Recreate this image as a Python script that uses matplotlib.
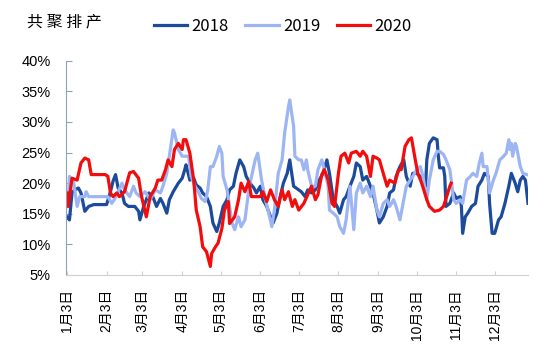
import matplotlib
matplotlib.use('Agg')
import matplotlib.pyplot as plt

# day of year (x) and share in % (y) for each year
days_2018 = [3, 5, 7, 9, 12, 14, 17, 20, 24, 34, 37, 39, 41, 43, 46, 48, 51, 56, 59, 60,
             63, 67, 70, 73, 76, 78, 81, 83, 86, 90, 93, 95, 96, 99, 102, 104, 107, 109, 112, 115,
             117, 120, 122, 125, 128, 130, 133, 135, 138, 141, 143, 146, 149, 151, 154, 156, 159, 162, 164, 167,
             169, 172, 175, 177, 180, 184, 186, 189, 191, 194, 197, 200, 203, 206, 208, 211, 214, 216, 219, 221,
             224, 227, 229, 232, 234, 237, 240, 242, 245, 247, 250, 253, 255, 258, 260, 263, 266, 268, 271, 273,
             276, 279, 281, 283, 284, 286, 289, 292, 293, 294, 297, 298, 299, 302, 305, 307, 310, 311, 312, 314,
             316, 319, 322, 324, 327, 329, 332, 333, 335, 337, 340, 342, 345, 348, 350, 353, 355, 357, 359, 361,
             363]
vals_2018 = [14.5, 14.0, 18.4, 18.9, 19.2, 18.4, 15.4, 16.2, 16.5, 16.5, 18.6, 20.3, 21.4, 19.2, 18.4, 16.7, 16.2, 16.2, 15.4, 14.0,
             16.2, 18.4, 17.8, 16.2, 17.5, 16.7, 15.1, 17.3, 18.6, 20.0, 20.8, 22.2, 23.0, 20.5, 20.8, 19.7, 19.2, 18.4, 17.8, 16.2,
             13.5, 12.1, 13.5, 16.2, 17.3, 18.9, 19.5, 21.6, 23.8, 22.7, 21.1, 20.0, 19.2, 18.4, 19.5, 17.3, 16.2, 14.5, 13.5, 15.1,
             17.3, 20.0, 21.6, 23.8, 19.5, 18.9, 18.6, 17.8, 18.9, 18.4, 18.9, 20.5, 21.6, 23.8, 21.6, 17.3, 16.2, 15.1, 17.3, 17.8,
             19.5, 21.1, 23.3, 22.7, 20.5, 21.1, 19.5, 18.4, 15.6, 13.5, 14.5, 16.2, 18.4, 18.9, 21.1, 22.7, 23.8, 21.1, 19.5, 21.6,
             21.6, 21.1, 20.0, 19.5, 23.8, 26.5, 27.4, 27.1, 24.4, 22.5, 22.5, 21.1, 16.2, 16.7, 18.4, 17.5, 17.8, 16.2, 11.8, 14.5,
             15.1, 16.2, 16.7, 19.5, 20.5, 21.6, 21.1, 16.7, 11.8, 11.8, 14.0, 14.5, 16.7, 19.5, 21.6, 20.0, 18.6, 20.5, 21.1, 20.5,
             16.7]

days_2019 = [3, 4, 5, 8, 11, 13, 17, 18, 20, 35, 38, 40, 43, 46, 48, 52, 55, 57, 60, 64,
             68, 72, 76, 78, 81, 83, 86, 87, 90, 93, 95, 98, 100, 103, 106, 108, 111, 113, 115, 117,
             120, 122, 124, 125, 128, 130, 132, 134, 137, 139, 142, 145, 146, 150, 152, 155, 158, 160, 163, 165,
             168, 171, 173, 176, 177, 180, 181, 184, 186, 188, 190, 191, 194, 197, 199, 202, 204, 207, 208, 211,
             214, 216, 219, 221, 224, 227, 229, 232, 234, 237, 240, 242, 245, 247, 250, 253, 255, 258, 260, 263,
             266, 268, 271, 273, 276, 279, 281, 284, 286, 289, 292, 294, 297, 299, 302, 305, 307, 310, 312, 315,
             318, 320, 323, 325, 327, 328, 331, 333, 336, 338, 341, 344, 346, 348, 349, 350, 351, 353, 354, 357,
             359, 362]
vals_2019 = [16.2, 16.7, 21.1, 20.5, 16.2, 17.8, 17.8, 18.6, 17.8, 17.8, 16.7, 17.3, 18.6, 20.0, 18.9, 17.8, 19.5, 18.4, 17.8, 18.6,
             17.3, 18.9, 18.4, 19.5, 21.6, 24.4, 28.7, 28.2, 25.5, 24.4, 24.4, 24.4, 21.1, 19.5, 18.4, 17.5, 17.0, 18.9, 22.7, 22.7,
             24.4, 26.0, 24.9, 21.1, 18.9, 16.2, 13.5, 12.4, 14.5, 12.9, 14.0, 18.9, 20.0, 23.8, 24.9, 20.5, 17.3, 15.6, 12.9, 15.6,
             21.6, 23.8, 28.2, 32.5, 33.6, 29.3, 24.4, 23.8, 23.8, 22.2, 23.8, 22.2, 19.5, 19.5, 22.2, 23.8, 22.2, 19.5, 15.6, 15.1,
             14.5, 12.9, 11.8, 14.0, 19.5, 12.4, 18.4, 20.0, 18.4, 19.5, 17.8, 19.5, 15.6, 14.5, 16.7, 17.3, 16.2, 17.3, 16.2, 14.0,
             17.3, 19.5, 20.5, 21.1, 22.2, 22.7, 21.1, 17.3, 20.5, 23.8, 25.2, 25.2, 24.7, 23.8, 22.2, 17.3, 16.7, 17.3, 16.7, 20.5,
             21.1, 21.6, 21.1, 23.3, 24.9, 22.7, 22.7, 18.4, 20.5, 21.6, 23.8, 24.4, 24.9, 27.1, 25.5, 26.5, 24.4, 26.5, 26.0, 22.7,
             21.6, 21.4]

days_2020 = [3, 4, 7, 11, 14, 17, 20, 22, 33, 35, 37, 39, 42, 44, 48, 52, 55, 59, 61, 65,
             68, 72, 74, 77, 80, 82, 85, 87, 90, 93, 94, 96, 99, 102, 104, 107, 109, 112, 115, 116,
             119, 121, 124, 126, 129, 130, 134, 137, 139, 142, 145, 147, 154, 156, 159, 162, 165, 168, 171, 173,
             176, 179, 181, 184, 188, 191, 194, 197, 199, 202, 204, 207, 210, 212, 215, 217, 220, 223, 225, 229,
             232, 234, 237, 240, 242, 245, 247, 250, 253, 255, 259, 262, 264, 267, 270, 272, 275, 277, 280, 284,
             286, 290, 294, 297, 299, 302, 303]
vals_2020 = [18.4, 16.2, 20.8, 20.5, 23.3, 24.1, 23.8, 21.4, 21.4, 21.1, 18.4, 17.8, 18.4, 17.8, 18.6, 21.7, 21.9, 20.8, 18.1, 14.5,
             17.8, 19.2, 20.5, 20.5, 22.2, 23.8, 22.7, 25.5, 26.5, 25.5, 27.1, 27.1, 24.9, 20.5, 15.6, 12.9, 9.6, 8.8, 6.4, 8.5,
             9.6, 10.2, 12.6, 15.6, 17.0, 13.4, 14.5, 17.3, 20.0, 18.6, 20.3, 17.8, 17.8, 18.6, 17.0, 18.9, 17.3, 16.2, 18.9, 17.3,
             18.6, 16.2, 17.3, 15.6, 16.7, 18.1, 19.5, 17.3, 18.1, 21.4, 22.2, 20.5, 16.7, 16.2, 21.6, 24.4, 24.9, 23.3, 24.9, 25.2,
             24.4, 25.2, 24.4, 21.1, 24.4, 24.1, 23.8, 21.6, 19.5, 20.5, 20.0, 22.2, 22.2, 26.0, 27.1, 27.4, 23.8, 21.6, 20.0, 17.3,
             16.2, 15.4, 15.6, 16.2, 17.5, 19.5, 20.0]

tick_days = [3, 34, 62, 93, 123, 154, 184, 215, 246, 276, 307, 337]
tick_labels = ['1月3日', '2月3日', '3月3日', '4月3日', '5月3日', '6月3日',
               '7月3日', '8月3日', '9月3日', '10月3日', '11月3日', '12月3日']
y_ticks = [5, 10, 15, 20, 25, 30, 35, 40]

plt.rcParams['font.family'] = ['Liberation Sans', 'Noto Sans CJK SC']

fig = plt.figure(figsize=(5.5, 3.53), dpi=100)
ax = fig.add_axes([0.12, 0.221, 0.84, 0.607])

ax.plot(days_2018, vals_2018, color='#1c4b9b', lw=2.3, label='2018')
ax.plot(days_2019, vals_2019, color='#9db5f2', lw=2.3, label='2019')
ax.plot(days_2020, vals_2020, color='#f20c0c', lw=2.3, label='2020')

ax.set_xlim(2.3, 363)
ax.set_ylim(5, 40)
ax.set_yticks(y_ticks)
ax.set_yticklabels([f'{v}%' for v in y_ticks], fontsize=10.5)
ax.set_xticks(tick_days)
ax.set_xticklabels(tick_labels, rotation=90, fontsize=10)

for side in ['top', 'right']:
    ax.spines[side].set_visible(False)
ax.spines['left'].set_color('#8fa2bd')
ax.spines['bottom'].set_color('#d0d0d0')
ax.tick_params(axis='y', direction='in', length=4, color='#8fa2bd', pad=11)
ax.tick_params(axis='x', direction='in', length=3, color='#d0d0d0', pad=10)

fig.text(27 / 550, 1 - 22 / 353, '共 聚 排 产', fontsize=11.5,
         family=['Noto Sans CJK SC'], va='center', ha='left')
ax.legend(loc='center', bbox_to_anchor=(0.514, 0.926), bbox_transform=fig.transFigure,
          ncol=3, frameon=False, handlelength=2.0, handletextpad=0.25,
          columnspacing=1.0, prop={'family': ['Noto Sans CJK SC'], 'size': 12})

fig.savefig('out.png', dpi=100)
